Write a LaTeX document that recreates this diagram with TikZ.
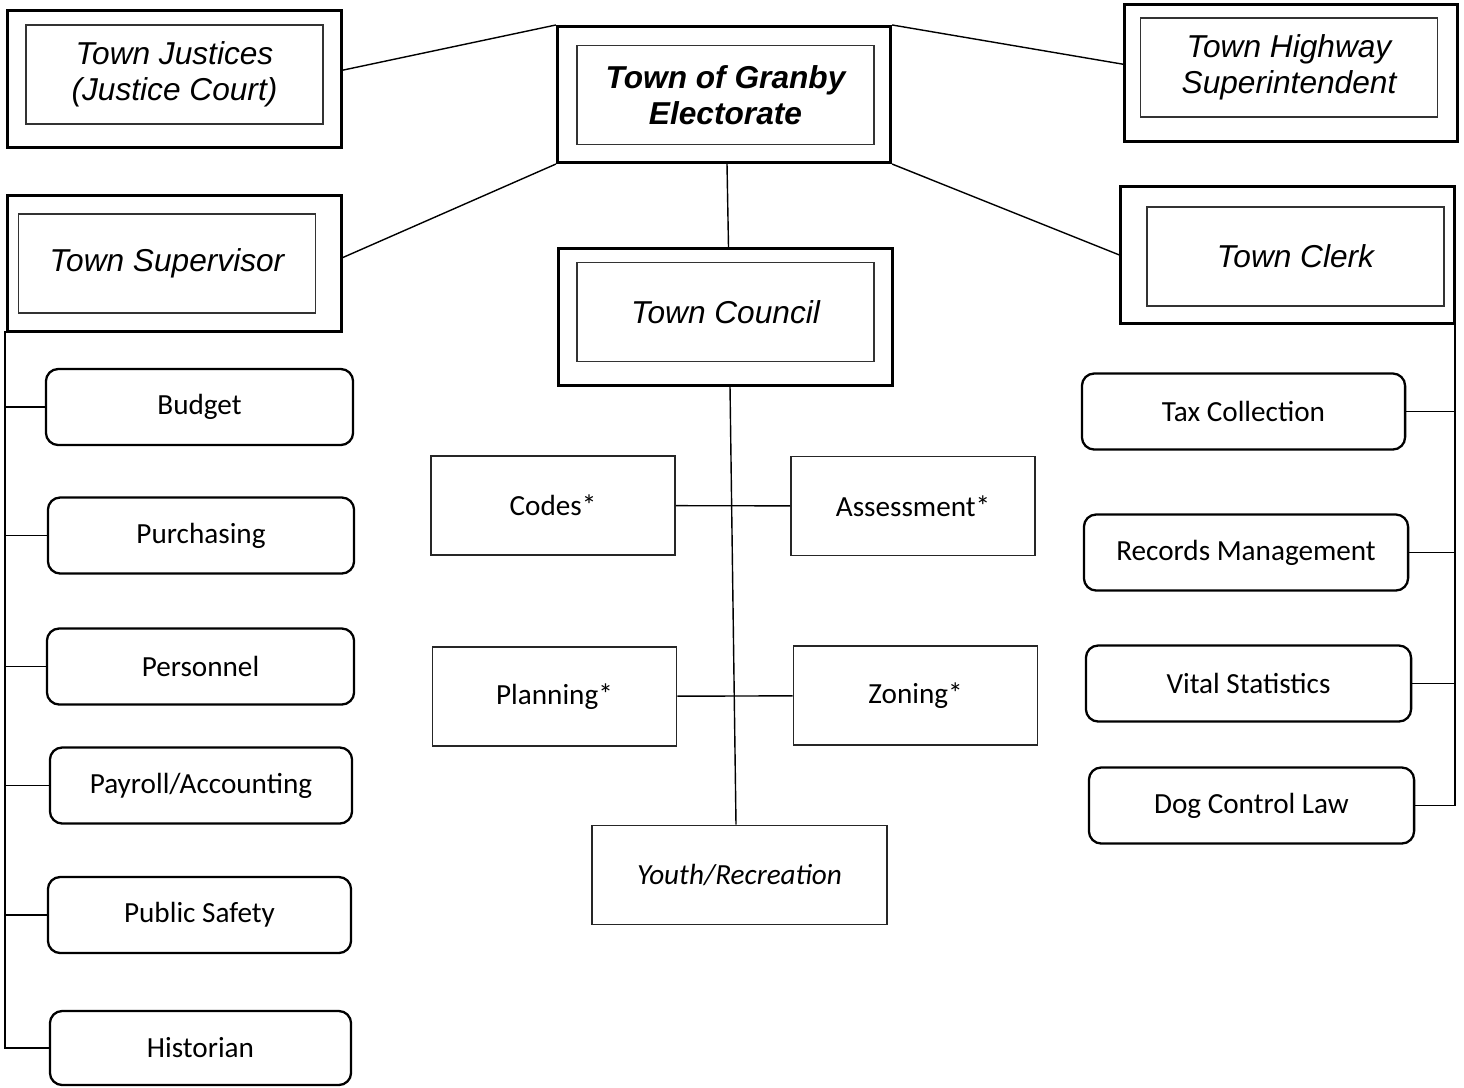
\documentclass[tikz,border=0pt]{standalone}
\usepackage{fontspec}
\setmainfont{Liberation Sans}
\newfontfamily\calfont{Carlito}
\usepackage{tikz}

\tikzset{
	outerbox/.style={rectangle, draw=black, line width=0.85pt, minimum width=3.33cm, minimum height=1.36cm, inner sep=0pt},
	innerbox/.style={rectangle, draw=black!80, line width=0.4pt, minimum width=2.97cm, minimum height=0.99cm, inner sep=0pt, align=center, font=\fontsize{9}{10.3}\selectfont\itshape},
	leafbox/.style={rectangle, rounded corners=3.5pt, draw=black, line width=0.65pt, minimum height=0.76cm, inner sep=0pt, font=\calfont\fontsize{8.3}{10}\selectfont},
	deptbox/.style={rectangle, draw=black!85, line width=0.45pt, minimum width=2.44cm, minimum height=0.99cm, inner sep=0pt, font=\calfont\fontsize{8.3}{10}\selectfont},
	link/.style={draw=black, line width=0.4pt}
}

\begin{document}
\begin{tikzpicture}[x=0.01cm, y=-0.01cm]
				\useasboundingbox (0,0) rectangle (1464,1087);
				
				%%% OFFICES
				\node[outerbox] (jus) at (174.5,79) {};
				\node[outerbox] (ele) at (724,94.5) {};
				\node[outerbox] (hwy) at (1291,73) {};
				\node[outerbox] (sup) at (174.5,263.5) {};
				\node[outerbox] (cou) at (725.5,317) {};
				\node[outerbox] (clk) at (1287.5,255) {};
				
				\node[innerbox] (jus-in) at (174.5,74.5) {Town Justices\\(Justice Court)};
				\node[innerbox, font=\fontsize{9}{10.3}\selectfont\bfseries\itshape] (ele-in) at (725.5,95) {Town of Granby\\Electorate};
				\node[innerbox] (hwy-in) at (1289,67.5) {Town Highway\\Superintendent};
				\node[innerbox] (sup-in) at (167,263.5) {Town Supervisor};
				\node[innerbox] (cou-in) at (725.5,312) {Town Council};
				\node[innerbox] (clk-in) at (1295.5,256.5) {Town Clerk};
				
				%%% SUPERVISOR
				\node[leafbox, minimum width=3.07cm] (bud) at (199.5,407) {Budget};
				\node[leafbox, minimum width=3.06cm] (pur) at (201,535.5) {Purchasing};
				\node[leafbox, minimum width=3.07cm] (per) at (200.5,666.5) {Personnel};
				\node[leafbox, minimum width=3.02cm] (pay) at (201,785.5) {Payroll/Accounting};
				\node[leafbox, minimum width=3.03cm] (saf) at (199.5,915) {Public Safety};
				\node[leafbox, minimum width=3.01cm, minimum height=0.74cm] (his) at (200.5,1048) {Historian};
				
				%%% CLERK
				\node[leafbox, minimum width=3.23cm] (tax) at (1243.5,411.5) {Tax Collection};
				\node[leafbox, minimum width=3.24cm] (rec) at (1246,552.5) {Records Management};
				\node[leafbox, minimum width=3.25cm] (vit) at (1248.5,683.5) {Vital Statistics};
				\node[leafbox, minimum width=3.25cm] (dog) at (1251.5,805.5) {Dog Control Law};
				
				%%% COUNCIL
				\node[deptbox] (cod) at (553,505.5) {Codes*};
				\node[deptbox] (ass) at (913,506) {Assessment*};
				\node[deptbox] (pla) at (554.5,696.5) {Planning*};
				\node[deptbox] (zon) at (915.5,695.5) {Zoning*};
				\node[deptbox, minimum width=2.95cm, font=\calfont\fontsize{8.3}{10}\selectfont\itshape] (you) at (739.5,875) {Youth/Recreation};
				
				%%% CONNECTIONS
				\draw[link] (jus.3) -- (ele.north west);
				\draw[link] (ele.north east) -- (hwy.177);
				\draw[link] (sup.2) -- (ele.south west);
				\draw[link] (ele.south east) -- (clk.west);
				\draw[link] ([xshift=0.03cm]ele.south) -- ([xshift=0.03cm]cou.north);
				\draw[link] ([xshift=0.045cm]cou.south) -- ([xshift=-0.035cm]you.north);
				\draw[link] (cod) -- (ass);
				\draw[link] (pla) -- (zon);
				
				\coordinate (lbus) at (5,331);
				\draw[link] (lbus) |- (his.west);
				\foreach \n in {bud,pur,per,pay,saf}
					\draw[link] (\n.west) -- (\n.west -| lbus);
				
				\coordinate (rbus) at (1455,323);
				\draw[link] (rbus) |- (dog.east);
				\foreach \n in {tax,rec,vit}
					\draw[link] (\n.east) -- (\n.east -| rbus);
\end{tikzpicture}
\end{document}
